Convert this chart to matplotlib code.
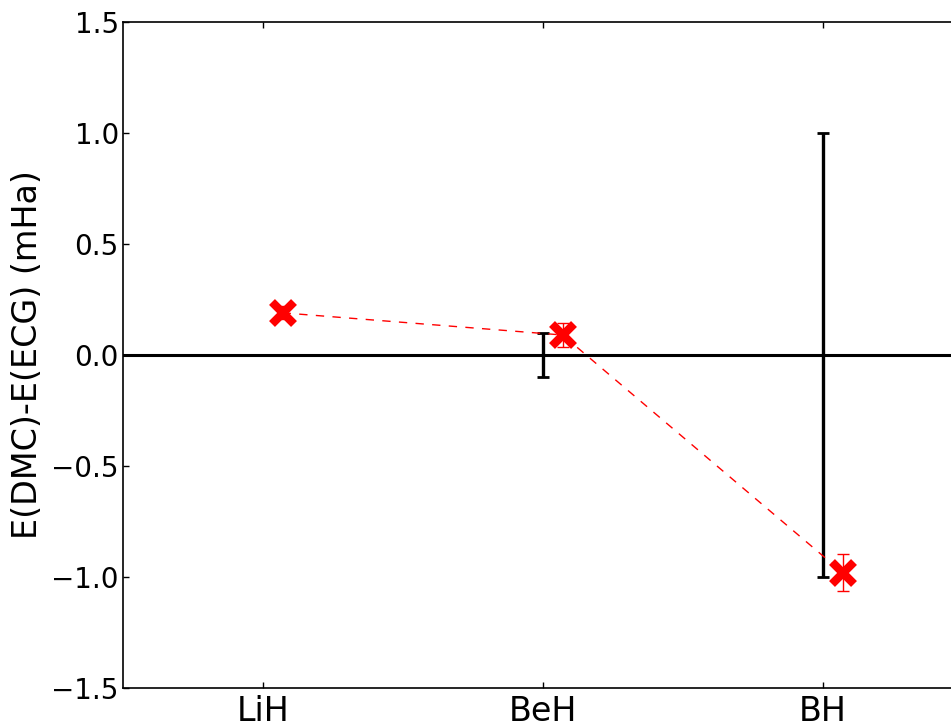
import numpy as np
import matplotlib as mpl
mpl.use('Agg')
import matplotlib.pyplot as plt

molecules = ['LiH', 'BeH', 'BH']
# ECG reference uncertainty (mHa), centred on zero
ecg_err = [0.0, 0.1, 1.0]
# DMC minus ECG energies (mHa) and DMC statistical error
dmc_diff = [0.19, 0.09, -0.98]
dmc_err = [0.03, 0.055, 0.085]

x = np.arange(1, len(molecules) + 1)
shift = 0.07

fig = plt.figure(figsize=(9.51, 7.23), dpi=100)
ax = fig.add_axes([123 / 951, 35 / 723, 840 / 951, 666 / 723])

ax.axhline(0.0, color='black', lw=2.2, zorder=1)
ax.errorbar(x, np.zeros(len(x)), yerr=ecg_err, fmt='none', ecolor='black',
            elinewidth=2.4, capsize=4, capthick=2, zorder=2)
ax.plot(x + shift, dmc_diff, color='red', ls='--', lw=1, dashes=(6, 6), zorder=3)
ax.errorbar(x + shift, dmc_diff, yerr=dmc_err, fmt='none', ecolor='red',
            elinewidth=1, capsize=4, capthick=1, zorder=4)
ax.plot(x + shift, dmc_diff, 'x', color='red', ms=16, mew=6, zorder=5)

ax.set_xlim(0.5, 3.5)
ax.set_ylim(-1.5, 1.5)
ax.set_xticks(x)
ax.set_xticklabels(molecules, fontsize=24)
ax.set_yticks(np.arange(-1.5, 1.51, 0.5))
ax.set_yticklabels(['%.1f' % v if v >= 0 else '\u2212%.1f' % -v
                    for v in np.arange(-1.5, 1.51, 0.5)], fontsize=20)
ax.tick_params(direction='in', top=True, right=True, length=4, width=1)
ax.tick_params(axis='y', pad=3)
ax.tick_params(axis='x', pad=5)
ax.set_ylabel('E(DMC)-E(ECG) (mHa)', fontsize=24, labelpad=5)
for s in ax.spines.values():
    s.set_linewidth(1.2)

fig.savefig('out.png', dpi=100)
